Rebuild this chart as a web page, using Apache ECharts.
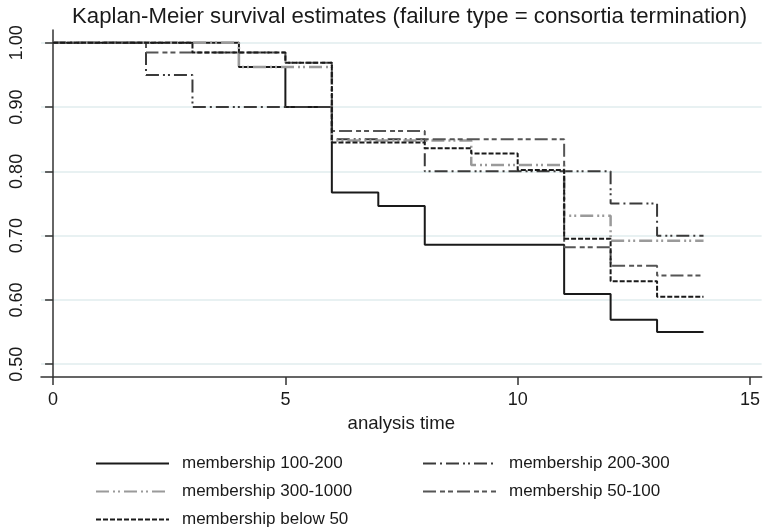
<!DOCTYPE html>
<html>
<head>
<meta charset="utf-8">
<script src="https://cdn.jsdelivr.net/npm/echarts@6/dist/echarts.min.js"></script>
<style>html,body{margin:0;padding:0;background:#fff;}#c{width:763px;height:531px;}</style>
</head>
<body>
<div id="c"></div>
<script>
const titleText = 'Kaplan-Meier survival estimates (failure type = consortia termination)';
const xTitle = 'analysis time';
const xTicks = [0, 5, 10, 15];
const yTicks = [0.5, 0.6, 0.7, 0.8, 0.9, 1.0];
const seriesNames = ['membership 100-200', 'membership 200-300', 'membership 300-1000', 'membership 50-100', 'membership below 50'];

const t100_200 = [0, 4, 5, 6, 7, 8, 11, 12, 13, 14];
const s100_200 = [1, 0.9625, 0.90, 0.767, 0.746, 0.686, 0.609, 0.569, 0.55, 0.55];
const t200_300 = [0, 2, 3, 6, 8, 12, 13, 14];
const s200_300 = [1, 0.95, 0.90, 0.85, 0.80, 0.75, 0.70, 0.70];
const t300_1000 = [0, 4, 6, 9, 11, 12, 14];
const s300_1000 = [1, 0.9625, 0.848, 0.81, 0.731, 0.692, 0.692];
const t50_100 = [0, 2, 5, 6, 8, 11, 12, 13, 14];
const s50_100 = [1, 0.985, 0.969, 0.863, 0.85, 0.682, 0.653, 0.638, 0.638];
const tBelow50 = [0, 3, 5, 6, 8, 9, 10, 11, 12, 13, 14];
const sBelow50 = [1, 0.985, 0.969, 0.845, 0.836, 0.828, 0.802, 0.695, 0.629, 0.605, 0.605];

const times = [t100_200, t200_300, t300_1000, t50_100, tBelow50];
const survs = [s100_200, s200_300, s300_1000, s50_100, sBelow50];
const styles = [
  {color: '#1a1a1a', width: 2, type: 'solid'},
  {color: '#3a3a3a', width: 2, type: [13, 4, 2, 4, 13, 4, 2, 3, 2, 4]},
  {color: '#9a9a9a', width: 2.5, type: [13, 4, 2, 3, 2, 4]},
  {color: '#555555', width: 2, type: [13, 4, 5, 3, 5, 4]},
  {color: '#1a1a1a', width: 2, type: [5, 2]}
];
const legendPos = [[95, 462], [422, 462], [95, 490], [422, 490], [95, 518]];
const font = '"Liberation Sans", Arial, sans-serif';

const series = seriesNames.map((n, i) => ({
  name: n,
  type: 'line',
  step: 'end',
  symbol: 'none',
  animation: false,
  color: styles[i].color,
  lineStyle: {color: styles[i].color, width: styles[i].width, type: styles[i].type},
  data: times[i].map((t, j) => [t, survs[i][j]])
}));

const legends = seriesNames.map((n, i) => ({
  data: [n],
  left: legendPos[i][0],
  top: legendPos[i][1] - 7,
  itemWidth: 73,
  itemHeight: 18,
  itemGap: 0,
  padding: 0,
  selectedMode: false,
  itemStyle: {opacity: 0},
  textStyle: {fontFamily: font, fontSize: 17, color: '#1a1a1a', padding: [0, 0, 0, 8]}
}));

const chart = echarts.init(document.getElementById('c'), null, {renderer: 'canvas'});
chart.setOption({
  backgroundColor: '#ffffff',
  animation: false,
  title: {
    text: titleText, left: 67, top: 1,
    textStyle: {fontFamily: font, fontSize: 22.2, fontWeight: 'normal', color: '#1a1a1a'}
  },
  legend: legends,
  grid: {left: 41, right: 0, top: 30, bottom: 154, containLabel: false},
  xAxis: {
    type: 'value', min: -0.26, max: 15.25,
    name: xTitle, nameLocation: 'middle', nameGap: 32,
    nameTextStyle: {fontFamily: font, fontSize: 18.6, color: '#1a1a1a'},
    axisLine: {show: true, lineStyle: {color: '#333', width: 1.5}},
    axisTick: {show: true, length: 8, customValues: xTicks, lineStyle: {color: '#333', width: 1.5}},
    axisLabel: {customValues: xTicks, fontFamily: font, fontSize: 18, color: '#1a1a1a', margin: 14},
    splitLine: {show: false}
  },
  yAxis: {
    type: 'value', min: 0.48, max: 1.02,
    axisLine: {show: true, lineStyle: {color: '#333', width: 1.5}},
    axisTick: {show: true, length: 8, customValues: yTicks, lineStyle: {color: '#333', width: 1.5}},
    axisLabel: {customValues: yTicks, rotate: 90, fontFamily: font, fontSize: 18, color: '#1a1a1a', margin: 15,
      formatter: v => v.toFixed(2)},
    splitLine: {show: true, lineStyle: {color: '#e8f1f2', width: 2}}
  },
  series: series
});
</script>
</body>
</html>
